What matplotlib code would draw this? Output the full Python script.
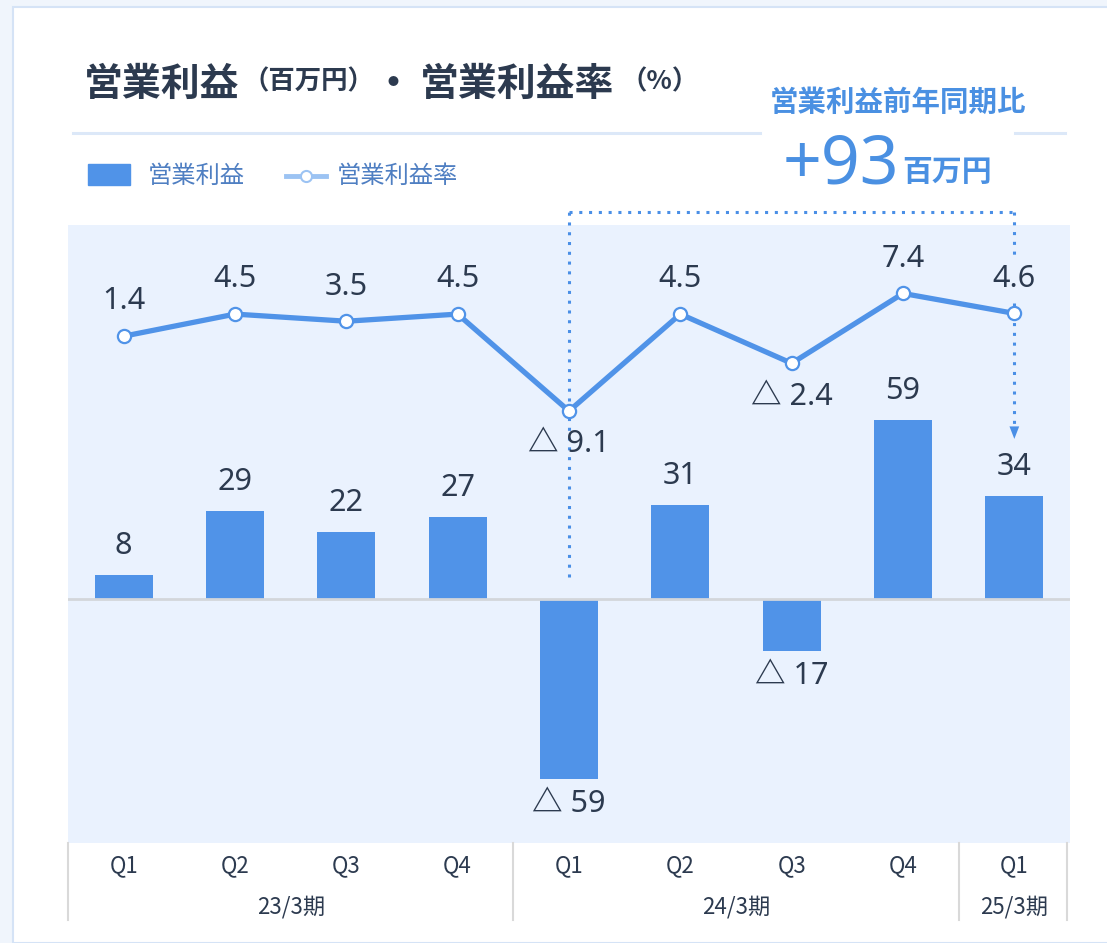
import matplotlib
matplotlib.use("Agg")
import matplotlib.pyplot as plt
from matplotlib.patches import Rectangle
from matplotlib.lines import Line2D
import matplotlib.transforms as mtrans

plt.rcParams['font.family'] = ['Noto Sans CJK JP', 'DejaVu Sans']
NUMFONT = ['Noto Sans', 'Noto Sans CJK JP', 'DejaVu Sans']

# データ
quarters = ['Q1', 'Q2', 'Q3', 'Q4', 'Q1', 'Q2', 'Q3', 'Q4', 'Q1']
periods = ['23/3期', '24/3期', '25/3期']
period_span = [(0, 3), (4, 7), (8, 8)]
profit = [8, 29, 22, 27, -59, 31, -17, 59, 34]      # 営業利益（百万円）
margin = [1.4, 4.5, 3.5, 4.5, -9.1, 4.5, -2.4, 7.4, 4.6]  # 営業利益率（%）
yoy = 93

BLUE = '#5093E8'
DARK = '#2C3A4F'
W, H = 1107, 943

fig = plt.figure(figsize=(W / 100, H / 100), dpi=100, facecolor='#F0F5FC')

# 白いカード
fig.patches.append(Rectangle((13 / W, 0), 1.1, 1 - 7 / H, transform=fig.transFigure,
                             facecolor='white', edgecolor='#D5E3F6', lw=1.5, zorder=-10))

ax = fig.add_axes([68 / W, 100 / H, 1002 / W, 618 / H])
ax.set_facecolor('#EAF2FE')
x = list(range(len(profit)))
ax.bar(x, profit, width=0.52, color=BLUE, zorder=2)
ax.axhline(0, color='#D3D6DB', lw=2, zorder=3)
ax.set_xlim(-0.5, len(profit) - 0.5)
ax.set_ylim(-80, 123)
for s in ax.spines.values():
    s.set_visible(False)
ax.set_xticks([])
ax.set_yticks([])


def fmt(v, dec):
    s = f'{abs(v):.{dec}f}'
    return s if v >= 0 else '△ ' + s


for xi, v in zip(x, profit):
    off = 21 if v >= 0 else -18
    ax.annotate(fmt(v, 0), (xi, v), xytext=(0, off), textcoords='offset points',
                ha='center', va='center', fontsize=22, family=NUMFONT,
                fontweight=600, color=DARK, zorder=6)

ax2 = ax.twinx()
ax2.set_ylim(-69.7, 17)
ax2.set_yticks([])
for s in ax2.spines.values():
    s.set_visible(False)

# 点線の矢印（前年同期比）
dot = dict(color='#4A8FE6', lw=2.2, ls=(0, (1, 2.2)), clip_on=False, zorder=1)
ax2.plot([4, 4], [-32.4, 18.8], **dot)
ax2.plot([4, 8], [18.8, 18.8], **dot)
ax2.plot([8, 8], [18.8, 12.7], **dot)
ax2.plot([8, 8], [6.0, -11.5], **dot)
ax2.annotate('', xy=(8, -13.4), xytext=(8, -11.0),
             arrowprops=dict(arrowstyle='-|>,head_width=0.35,head_length=0.9',
                             color='#4A8FE6', lw=0), zorder=1)

ax2.plot(x, margin, color=BLUE, lw=3.8, marker='o', ms=9.5, mfc='white',
         mec=BLUE, mew=1.6, zorder=5)
for xi, v in zip(x, margin):
    off = 25 if v >= 0 else -24
    ax2.annotate(fmt(v, 1), (xi, v), xytext=(0, off), textcoords='offset points',
                 ha='center', va='center', fontsize=22, family=NUMFONT,
                 fontweight=600, color=DARK, zorder=6)

# 横軸ラベル
tr = mtrans.blended_transform_factory(ax.transData, ax.transAxes)
for xi, q in zip(x, quarters):
    ax.text(xi, -0.037, q, transform=tr, ha='center', va='center', fontsize=16, color=DARK)
for (a, b), p in zip(period_span, periods):
    ax.text((a + b) / 2, -0.104, p, transform=tr, ha='center', va='center',
            fontsize=16, color=DARK)
for xs in [-0.5, 3.5, 7.5, 8.47]:
    ax.plot([xs, xs], [0, -0.125], transform=tr, color='#D9D9D9', lw=1.5, clip_on=False)

# タイトル
ty = 1 - 84 / H
fig.text(84 / W, ty, '営業利益', fontsize=28, color=DARK, fontweight='bold', va='center')
fig.text(243 / W, ty + 2 / H, '（百万円）', fontsize=19, color=DARK, fontweight='bold', va='center')
fig.text(393 / W, ty, '・', fontsize=28, color=DARK, fontweight='bold', va='center', ha='center')
fig.text(420 / W, ty, '営業利益率', fontsize=28, color=DARK, fontweight='bold', va='center')
fig.text(620 / W, ty + 2 / H, '（%）', fontsize=19, color=DARK, fontweight='bold', va='center')

# タイトル下の線
fig.add_artist(Line2D([73 / W, 760 / W], [1 - 133 / H] * 2, color='#DCE8F8', lw=2.2))
fig.add_artist(Line2D([1015 / W, 1065 / W], [1 - 133 / H] * 2, color='#DCE8F8', lw=2.2))

# 凡例
fig.patches.append(Rectangle((88 / W, 1 - 185 / H), 42 / W, 21 / H,
                             transform=fig.transFigure, color=BLUE))
fig.text(148 / W, 1 - 176 / H, '営業利益', fontsize=17.5, color='#4F7FC2', va='center')
fig.add_artist(Line2D([286 / W, 326 / W], [1 - 176 / H] * 2, color='#9CC3F3', lw=3.5))
fig.add_artist(Line2D([306 / W], [1 - 176 / H], marker='o', ms=8, mfc='white',
                      mec='#9CC3F3', mew=1.5))
fig.text(337 / W, 1 - 176 / H, '営業利益率', fontsize=17.5, color='#4F7FC2', va='center')

# 前年同期比
fig.canvas.draw()
r = fig.canvas.get_renderer()
fig.text(898 / W, 1 - 103 / H, '営業利益前年同期比', fontsize=20.5, color='#4A90E2',
         fontweight='bold', ha='center', va='center')
t1 = fig.text(783 / W, 1 - 183 / H, f'+{yoy}', fontsize=49, color='#4A90E2',
              family=NUMFONT, ha='left', va='baseline')
w1 = t1.get_window_extent(r).width
fig.text((783 + w1 + 3) / W, 1 - 181 / H, '百万円', fontsize=21.5, color='#4A90E2',
         fontweight='bold', ha='left', va='baseline')

fig.savefig('out.png', dpi=100, facecolor=fig.get_facecolor())
